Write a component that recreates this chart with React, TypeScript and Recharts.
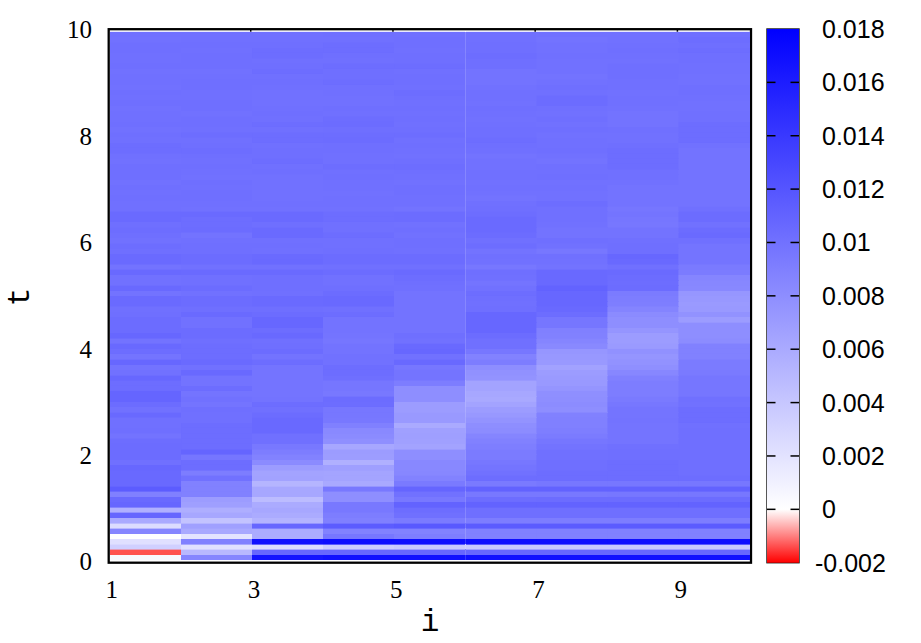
import React from "react";
import { BarChart, Bar, Cell, XAxis, YAxis } from "recharts";

// Heat values per column (i), in units of 0.001, bottom row (t = 0) first; ten per line.
const col1 = [
  0.6,-1.37,3.3,2.2,0.1,8.6,2.5,6.0,10.8,5.6,
  10.8,10.6,9.0,11.5,10.6,10.6,10.6,10.7,10.1,10.4,
  10.4,10.4,10.3,9.9,10.2,10.1,10.1,10.6,10.0,10.4,
  10.9,10.9,10.3,10.3,10.7,10.0,9.9,10.7,9.8,10.3,
  10.6,9.9,10.7,10.4,10.4,10.4,10.2,10.1,10.5,10.5,
  9.9,10.6,10.0,10.0,10.6,9.9,10.5,10.5,10.2,10.3,
  10.0,10.2,10.3,10.2,10.5,10.5,10.1,10.1,10.2,10.1,
  10.2,10.0,10.2,10.2,10.2,10.0,10.1,10.3,10.3,10.1,
  10.2,10.0,10.2,10.1,10.1,10.0,10.2,10.1,10.2,10.0,
  10.1,10.1,10.0,10.2,10.1,10.1,10.2,10.2,10.0,10.1,
];
const col2 = [
  8.6,5.0,2.2,9.0,1.9,6.1,6.7,4.2,6.2,5.7,
  6.8,7.0,8.9,8.9,8.9,10.0,9.2,10.3,10.3,9.7,
  10.9,10.3,10.3,10.3,10.3,10.3,10.1,10.1,10.2,9.8,
  10.0,9.8,10.3,9.9,9.9,10.6,10.0,10.5,10.3,10.3,
  10.3,10.2,10.4,10.4,10.0,10.0,10.5,10.2,10.4,10.4,
  10.0,10.4,10.1,10.1,10.5,10.0,10.4,10.4,10.2,10.2,
  10.1,9.9,10.4,10.3,10.3,10.5,10.0,10.1,10.2,10.2,
  10.1,10.2,10.0,10.1,10.2,10.1,10.2,10.3,10.2,10.1,
  10.3,10.1,10.2,10.2,10.0,10.2,10.2,10.1,10.1,10.2,
  10.2,10.1,10.0,10.2,10.2,10.2,10.1,10.2,10.1,10.1,
];
const col3 = [
  16.6,10.7,2.5,16.9,5.9,5.9,10.8,5.4,5.9,6.2,
  5.9,4.7,6.2,6.2,5.2,6.6,6.5,7.0,8.2,8.8,
  9.2,9.5,10.1,10.1,10.6,10.6,10.6,10.4,10.1,10.3,
  9.9,9.8,9.8,9.8,9.8,9.8,9.8,10.3,9.9,10.4,
  10.2,10.1,10.6,10.3,10.7,10.7,10.4,10.2,10.5,10.5,
  10.1,10.2,10.2,10.2,10.5,10.0,10.6,10.5,10.1,10.2,
  10.1,10.5,10.5,10.2,10.5,10.5,10.0,10.1,10.0,10.0,
  10.0,10.0,10.0,10.2,10.1,10.3,10.2,10.2,10.1,10.3,
  10.3,10.1,10.3,10.1,10.2,10.1,10.0,10.0,10.0,10.1,
  10.2,10.1,10.3,10.2,10.1,10.3,10.3,10.2,10.1,10.1,
];
const col4 = [
  16.9,10.7,3.5,17.1,9.6,8.8,11.5,9.0,9.2,9.5,
  9.5,8.0,8.0,9.5,6.1,6.4,6.4,6.8,5.6,6.9,
  7.0,6.2,7.9,8.2,8.3,9.0,9.5,9.6,9.6,10.3,
  10.4,9.5,9.7,9.7,10.2,10.3,10.3,10.0,10.0,9.9,
  9.9,9.7,9.8,9.9,9.9,9.9,10.3,10.1,10.6,10.6,
  10.4,10.2,10.0,10.0,10.4,10.1,10.4,10.4,10.2,10.1,
  10.1,10.3,10.1,10.1,10.3,10.3,10.0,10.1,10.1,10.0,
  10.1,10.1,10.2,10.1,10.3,10.1,10.1,10.2,10.2,10.4,
  10.3,10.2,10.4,10.3,10.1,10.2,10.0,10.0,10.1,10.1,
  10.3,10.2,10.2,10.3,10.1,10.2,10.3,10.3,10.1,10.2,
];
const col5 = [
  16.9,10.7,3.8,17.0,9.1,8.8,11.7,9.3,10.1,10.3,
  11.0,9.5,10.0,10.9,9.4,8.8,8.5,8.4,8.4,8.0,
  8.0,6.5,6.7,6.8,6.7,6.0,7.2,7.2,7.0,7.0,
  8.0,8.0,8.0,9.2,9.8,9.8,9.6,10.6,10.0,10.7,
  10.6,10.0,10.2,9.9,9.9,9.9,9.9,9.9,9.9,9.9,
  9.9,10.1,10.2,10.3,10.5,10.1,10.4,10.4,10.1,10.2,
  10.2,10.0,10.2,10.0,10.4,10.4,9.9,10.1,10.1,10.2,
  10.2,10.0,10.1,10.2,10.3,10.2,10.0,10.1,10.2,10.1,
  10.3,10.2,10.1,10.2,10.1,10.2,10.1,10.2,10.3,10.1,
  10.2,10.2,10.1,10.3,10.2,10.2,10.1,10.2,10.2,10.1,
];
const col6 = [
  16.9,10.7,3.8,17.0,8.9,8.9,11.6,9.2,10.2,10.2,
  11.0,10.3,9.5,11.1,9.4,10.3,10.0,9.8,9.6,9.3,
  9.3,9.1,8.9,8.6,8.1,8.0,7.6,7.3,7.0,6.5,
  6.1,6.2,6.5,6.5,7.6,7.8,8.0,9.2,8.8,9.6,
  10.1,10.1,10.4,10.7,10.7,10.7,10.7,10.2,10.1,10.2,
  10.3,10.0,9.8,10.1,10.2,9.6,10.0,10.1,9.9,10.3,
  10.1,10.4,10.5,10.5,10.5,10.3,10.2,10.1,9.9,10.0,
  10.1,10.0,10.1,10.1,10.0,10.0,9.9,10.1,10.2,10.3,
  10.2,10.2,10.1,10.0,10.1,10.2,10.0,10.1,10.1,10.0,
  9.9,9.9,9.9,10.2,10.2,10.3,10.2,10.2,10.1,10.1,
];
const col7 = [
  16.9,10.7,3.8,17.0,8.9,8.9,11.6,9.2,10.2,10.2,
  11.0,10.4,9.5,11.1,9.6,10.3,10.3,10.2,10.2,10.1,
  10.1,9.9,9.7,9.3,9.1,9.0,9.0,8.9,8.0,8.1,
  8.0,7.9,7.5,7.2,7.1,7.0,6.6,7.2,7.3,7.4,
  8.3,8.6,8.9,9.0,9.7,9.7,10.3,10.6,10.7,10.7,
  10.7,11.0,10.6,10.6,10.6,9.9,10.0,10.1,9.6,10.0,
  10.2,9.9,9.9,10.0,10.1,10.1,10.1,10.3,10.0,10.0,
  10.1,10.0,10.2,10.1,10.1,9.9,10.0,10.2,10.1,10.1,
  10.0,10.2,10.0,10.2,10.0,10.1,10.4,10.4,10.1,10.2,
  10.0,9.9,10.0,10.0,10.0,10.1,10.0,10.0,9.9,10.0,
];
const col8 = [
  16.9,10.7,3.8,17.0,8.9,8.9,11.6,9.2,10.2,10.2,
  11.0,10.4,9.6,11.1,9.6,10.3,10.3,10.3,10.3,10.2,
  10.2,10.1,9.8,9.8,9.8,9.8,9.9,9.8,9.8,9.6,
  9.4,9.2,9.2,9.2,9.0,8.5,7.9,7.7,7.5,7.8,
  7.1,7.0,7.0,7.5,8.0,8.0,8.2,8.7,9.1,9.2,
  9.3,10.4,10.3,10.4,10.5,10.1,10.6,10.7,10.2,10.2,
  10.1,9.9,9.9,9.6,9.7,9.8,9.7,9.9,9.9,9.9,
  9.9,10.0,10.1,10.1,10.3,10.3,10.3,10.3,10.2,10.0,
  10.0,10.1,9.9,9.9,9.9,10.0,10.1,10.1,10.0,10.1,
  10.1,10.2,10.2,10.2,10.0,10.1,10.2,10.1,10.0,10.0,
];
const col9 = [
  16.9,10.7,3.8,17.0,8.9,8.9,11.6,9.2,10.2,10.2,
  11.0,10.4,9.6,11.1,9.6,10.3,10.2,10.2,10.2,10.2,
  10.2,10.2,10.2,10.2,10.2,10.1,10.3,10.3,10.3,10.0,
  10.1,9.7,9.7,9.7,9.7,9.4,9.3,9.3,8.9,8.9,
  8.9,8.1,8.0,8.0,8.0,7.0,7.7,7.2,7.1,7.3,
  7.4,8.4,8.5,8.6,9.3,9.4,9.8,9.8,9.8,9.8,
  10.1,10.5,10.4,10.0,10.4,10.4,10.1,9.9,9.9,9.9,
  9.9,9.9,9.9,9.9,9.9,9.9,9.9,9.9,10.0,10.3,
  10.3,10.3,10.3,10.1,10.1,10.0,10.0,10.1,10.2,10.2,
  10.0,10.0,10.1,10.1,10.2,10.2,10.3,10.2,10.3,10.2,
];
const heatColumns = [col1, col2, col3, col4, col5, col6, col7, col8, col9];
const iLabels = ["1", "2", "3", "4", "5", "6", "7", "8", "9"];
const tTicks = [0, 2, 4, 6, 8, 10];
const rowStep = 0.1;
const scaleTicks = [-2, 0, 2, 4, 6, 8, 10, 12, 14, 16, 18];
const scaleLabels = ["-0.002", "0", "0.002", "0.004", "0.006", "0.008", "0.01", "0.012", "0.014", "0.016", "0.018"];

const heatColor = (v: number) => {
  if (v < 0) {
    const g = Math.round(255 * (1 + v / 2));
    return `rgb(255,${g},${g})`;
  }
  const g = Math.round(255 * (1 - v / 18));
  return `rgb(${g},${g},255)`;
};

const rowKeys = col1.map((_, r) => `r${r}`);
const heatData = iLabels.map((i) => {
  const row: Record<string, string | number> = { i };
  rowKeys.forEach((k) => (row[k] = rowStep));
  return row;
});
const scaleData = [{ name: "scale", span: [-2, 18] }];

const SERIF = "'Liberation Serif', serif";
const SANS = "'Liberation Sans', sans-serif";
const MONO = "'Liberation Mono', monospace";

const XTick = (props: any) => {
  const { x, payload } = props;
  const left = x - 35.55 - 1.5;
  return (
    <g>
      <text x={left - 3} y={589} fontFamily={SERIF} fontSize={25} textAnchor="start" dominantBaseline="central" fill="#000">
        {payload.value}
      </text>
      {payload.value !== "1" && <line x1={left} x2={left} y1={29} y2={31.7} stroke="#000" strokeWidth={1.5} />}
    </g>
  );
};

const YTick = (props: any) => {
  const { y, payload } = props;
  return (
    <text x={92} y={y + (5 - payload.value) * 0.37} fontFamily={SERIF} fontSize={25} textAnchor="end" dominantBaseline="central" fill="#000">
      {payload.value}
    </text>
  );
};

const ScaleTick = (props: any) => {
  const { y, payload } = props;
  const idx = scaleTicks.indexOf(payload.value);
  const neg = payload.value < 0;
  return (
    <g>
      {payload.value !== 18 && payload.value !== -2 && (
        <>
          <line x1={767} x2={775.5} y1={y} y2={y} stroke="#000" strokeWidth={1.5} />
          <line x1={790.5} x2={799} y1={y} y2={y} stroke="#000" strokeWidth={1.5} />
        </>
      )}
      <text x={neg ? 815 : 822} y={y} fontFamily={SANS} fontSize={25} textAnchor="start" dominantBaseline="central" fill="#000">
        {scaleLabels[idx]}
      </text>
    </g>
  );
};

export default function App() {
  return (
    <div style={{ position: "absolute", left: 0, top: 0, width: 921, height: 643, background: "#fff" }}>
      <div style={{ position: "absolute", left: 0, top: 0 }}>
        <BarChart
          width={921}
          height={643}
          data={heatData}
          barCategoryGap="0%"
          barGap={0}
          margin={{ left: 50, right: 171, top: 31.7, bottom: 43 }}
        >
          <XAxis dataKey="i" interval={1} height={40} axisLine={false} tickLine={false} tick={<XTick />} />
          <YAxis
            type="number"
            domain={[0, 10]}
            ticks={tTicks}
            width={60}
            allowDataOverflow
            axisLine={false}
            tickLine={false}
            tick={<YTick />}
          />
          {rowKeys.map((k, r) => (
            <Bar key={k} dataKey={k} stackId="t" isAnimationActive={false} shapeRendering="crispEdges">
              {heatColumns.map((col, c) => (
                <Cell key={c} fill={heatColor(col[r])} stroke={heatColor(col[r])} strokeWidth={0.6} />
              ))}
            </Bar>
          ))}
          <rect x={108.7} y={29.2} width={642.3} height={533.5} fill="none" stroke="#000" strokeWidth={2.3} />
          <text x={430} y={622} fontFamily={MONO} fontSize={31} textAnchor="middle" dominantBaseline="central" fill="#000">i</text>
          <text x={20} y={297} fontFamily={MONO} fontSize={31} textAnchor="middle" dominantBaseline="central" fill="#000" transform="rotate(-90 20 297)">t</text>
        </BarChart>
      </div>
      <div style={{ position: "absolute", left: 0, top: 0 }}>
        <BarChart
          width={921}
          height={643}
          data={scaleData}
          barCategoryGap="0%"
          margin={{ left: 767, right: 0, top: 29, bottom: 80.3 }}
        >
          <defs>
            <linearGradient id="palette" x1="0" y1="0" x2="0" y2="1">
              <stop offset="0%" stopColor="#0000ff" />
              <stop offset="90%" stopColor="#ffffff" />
              <stop offset="100%" stopColor="#ff0000" />
            </linearGradient>
          </defs>
          <XAxis dataKey="name" hide />
          <YAxis
            orientation="right"
            type="number"
            domain={[-2, 18]}
            ticks={scaleTicks}
            width={122}
            axisLine={false}
            tickLine={false}
            tick={<ScaleTick />}
          />
          <Bar dataKey="span" fill="url(#palette)" isAnimationActive={false} />
          <rect x={767} y={29} width={32} height={533.7} fill="none" stroke="#111" strokeWidth={1.4} />
        </BarChart>
      </div>
    </div>
  );
}
